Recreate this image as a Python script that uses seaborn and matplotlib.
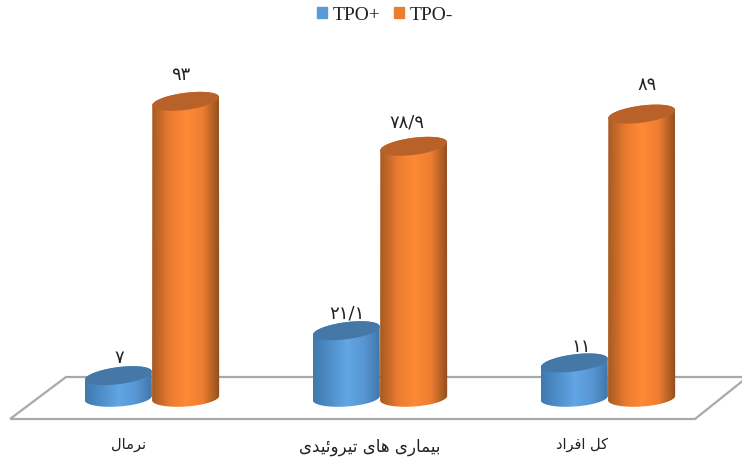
import numpy as np
import pandas as pd
import matplotlib
matplotlib.use("Agg")
import matplotlib.pyplot as plt
import seaborn as sns
from matplotlib.colors import LinearSegmentedColormap
from matplotlib.patches import Patch, Polygon

# data
categories = ["نرمال", "بیماری های تیروئیدی", "کل افراد"]
tpo_pos = [7, 21.1, 11]
tpo_neg = [93, 78.9, 89]
series_names = ["TPO+", "TPO-"]

W, H = 742, 458
PX_X = 228.0    # pixels per category
PX_Y = 3.19     # pixels per percent
X0_PX, Y0_PX = 152, 398

# matplotlib has no arabic shaping, so join the letters by hand
FORMS = {
    "ن": "\ufee5\ufee6\ufee7\ufee8", "م": "\ufee1\ufee2\ufee3\ufee4",
    "ل": "\ufedd\ufede\ufedf\ufee0", "ب": "\ufe8f\ufe90\ufe91\ufe92",
    "ی": "\ufbfc\ufbfd\ufbfe\ufbff", "ه": "\ufee9\ufeea\ufeeb\ufeec",
    "ت": "\ufe95\ufe96\ufe97\ufe98", "ئ": "\ufe89\ufe8a\ufe8b\ufe8c",
    "ک": "\ufb8e\ufb8f\ufb90\ufb91", "ف": "\ufed1\ufed2\ufed3\ufed4",
    "ر": "\ufead\ufeae", "ا": "\ufe8d\ufe8e", "و": "\ufeed\ufeee",
    "د": "\ufea9\ufeaa",
}


def shape(text):
    out = []
    for i, c in enumerate(text):
        if c not in FORMS:
            out.append(c)
            continue
        prev = text[i - 1] if i > 0 else " "
        nxt = text[i + 1] if i < len(text) - 1 else " "
        before = prev in FORMS and len(FORMS[prev]) == 4
        after = nxt in FORMS and len(FORMS[c]) == 4
        idx = {(False, False): 0, (True, False): 1, (False, True): 2, (True, True): 3}[(before, after)]
        out.append(FORMS[c][idx])
    return "".join(reversed(out))


def fa_number(v):
    s = f"{v:g}".replace(".", "/")
    return s.translate(str.maketrans("0123456789", "۰۱۲۳۴۵۶۷۸۹"))


df = pd.DataFrame({
    "group": categories * 2,
    "value": tpo_pos + tpo_neg,
    "series": [series_names[0]] * 3 + [series_names[1]] * 3,
})

sns.set_theme(style="white")
plt.rcParams["font.family"] = ["DejaVu Sans"]

fig = plt.figure(figsize=(W / 100, H / 100), dpi=100)
ax = fig.add_axes([0, 0, 1, 1])
sns.barplot(data=df, x="group", y="value", hue="series", order=categories,
            hue_order=series_names, width=0.59, gap=0, dodge=True, legend=False, ax=ax)

xlim = (-X0_PX / PX_X, (W - X0_PX) / PX_X)
ylim = (-(H - Y0_PX) / PX_Y, Y0_PX / PX_Y)
ax.axis("off")

# floor of the 3d box
floor_px = [(10, 419), (695, 419), (745, 379), (745, 377), (66, 377)]
ax.add_patch(Polygon([(x / W, 1 - y / H) for x, y in floor_px], closed=True, fill=False,
                     edgecolor="#a9a9a9", lw=1.6, transform=ax.transAxes, zorder=1))

side_cmaps = [
    LinearSegmentedColormap.from_list("b", ["#3f79ad", "#4f8fc9", "#62a6e5", "#5797d3", "#3f75a8"]),
    LinearSegmentedColormap.from_list("o", ["#a55a22", "#e87a2f", "#ff8a36", "#ee7d30", "#8f4d1e"]),
]
top_colors = ["#4578a6", "#b8622a"]
grad = np.linspace(0, 1, 256).reshape(1, -1)


def ellipse(cx, cy, a, b, tilt, t):
    # cx in data, cy in data, a and b in pixels
    dx = a * np.cos(t) * np.cos(tilt) - b * np.sin(t) * np.sin(tilt)
    dy = a * np.cos(t) * np.sin(tilt) + b * np.sin(t) * np.cos(tilt)
    return np.column_stack([cx + dx / PX_X, cy + dy / PX_Y])


TILT_TOP = np.radians(7.5)
TILT_BOT = np.radians(4)
B = 8.5

# bars come out of seaborn blue ones first, orange ones after
bars = list(ax.patches)[:6]
for n, p in enumerate(bars):
    s = 0 if n < 3 else 1
    # orange cylinder of a group has to sit over its blue one
    z = 3 + (n % 3) * 2 + s
    x, w, h = p.get_x(), p.get_width(), p.get_height()
    p.set_visible(False)
    cx = x + w / 2
    a = w * PX_X / 2
    low = ellipse(cx, 0, a, B, TILT_BOT, np.linspace(np.pi, 2 * np.pi, 60))
    up = ellipse(cx, h, a, B, TILT_TOP, np.linspace(0, np.pi, 60))
    body = Polygon(np.vstack([low, up]), closed=True, transform=ax.transData, fc="none", ec="none")
    ax.add_patch(body)
    im = ax.imshow(grad, cmap=side_cmaps[s], extent=(x, x + w, -15, h + 8), aspect="auto", zorder=z)
    im.set_clip_path(body)
    cap = ellipse(cx, h, a, B, TILT_TOP, np.linspace(0, 2 * np.pi, 120))
    ax.add_patch(Polygon(cap, closed=True, fc=top_colors[s], ec="none", zorder=z + 0.5))

ax.set_xlim(xlim)
ax.set_ylim(ylim)


def px_text(x, y, s, **kw):
    ax.text(x / W, 1 - y / H, s, transform=ax.transAxes, ha="center", va="center",
            color="#222222", **kw)


# value labels, placed above the caps
value_px = [(119, 358), (347, 314), (581, 347), (181, 75), (407, 122), (647, 85)]
for (x, y), v in zip(value_px, tpo_pos + tpo_neg):
    px_text(x, y, fa_number(v), fontsize=13)

label_px = [(129, 445), (370, 447), (582, 445)]
label_sizes = [10.5, 12, 10.5]
for (x, y), c, fs in zip(label_px, categories, label_sizes):
    px_text(x, y, shape(c), fontsize=fs)

handles = [Patch(color="#5b9bd5", label=series_names[0]), Patch(color="#ed7d31", label=series_names[1])]
fig.legend(handles=handles, loc="center", bbox_to_anchor=(385 / W, 1 - 15 / H), ncol=2, frameon=False,
           prop={"family": "Liberation Serif", "size": 14}, handlelength=0.52, handleheight=0.52,
           handletextpad=0.3, columnspacing=0.7, labelcolor="#222222")

fig.savefig("out.png", dpi=100)
